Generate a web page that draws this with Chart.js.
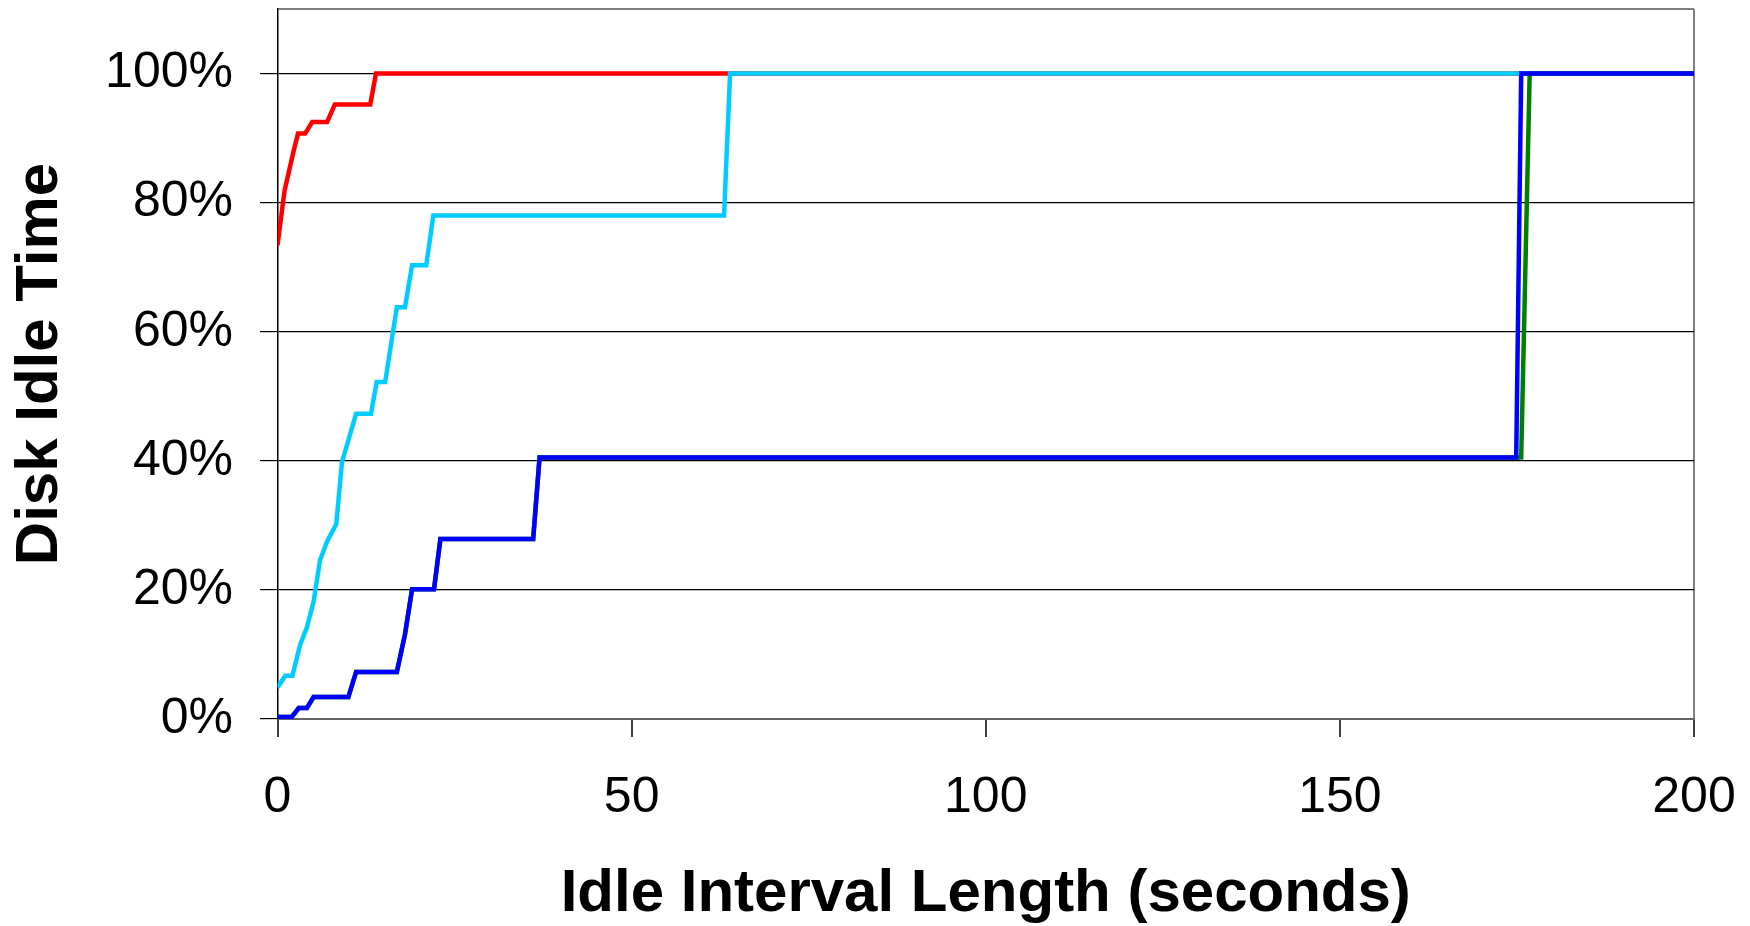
<!DOCTYPE html>
<html>
<head>
<meta charset="utf-8">
<title>Disk Idle Time</title>
<script src="https://cdn.jsdelivr.net/npm/chart.js"></script>
<style>
  html, body { margin: 0; padding: 0; background: #fff; }
  #chart { display: block; }
</style>
</head>
<body>
<canvas id="chart" width="1750" height="926"></canvas>
<script>
// idle interval length (s) / cumulative disk idle time (%)
var redSec  = [0, 1.0, 2.3, 2.9, 3.9, 4.9, 7.0, 8.1, 13.1, 13.9, 200];
var redPct  = [73.4, 81.9, 88.1, 90.7, 90.7, 92.5, 92.5, 95.2, 95.2, 100, 100];

var cyanSec = [0, 1.1, 2.1, 3.2, 4.15, 5.1, 6.0, 7.0, 8.3, 9.1, 11.1, 13.2, 14.0, 15.2, 16.85, 18.0, 19.0, 21.0, 22.0, 63.05, 63.9, 200];
var cyanPct = [4.9, 6.7, 6.7, 11.5, 14.2, 18.2, 24.6, 27.5, 30.2, 39.8, 47.3, 47.3, 52.2, 52.2, 63.8, 63.8, 70.3, 70.3, 78, 78, 100, 100];

var greenSec = [0, 2.0, 3.0, 4.15, 5.1, 10.0, 11.1, 16.85, 18.0, 19.0, 22.1, 23.0, 36.1, 37.0, 175.6, 176.8, 200];
var greenPct = [0.3, 0.3, 1.7, 1.7, 3.4, 3.4, 7.3, 7.3, 13.1, 20.1, 20.1, 27.9, 27.9, 40.5, 40.5, 100, 100];

var blueSec = [0, 2.0, 3.0, 4.15, 5.1, 10.0, 11.1, 16.85, 18.0, 19.0, 22.1, 23.0, 36.1, 37.0, 174.9, 175.6, 200];
var bluePct = [0.3, 0.3, 1.7, 1.7, 3.4, 3.4, 7.3, 7.3, 13.1, 20.1, 20.1, 27.9, 27.9, 40.5, 40.5, 100, 100];

var xTicks = [0, 50, 100, 150, 200];
var yTicks = [0, 20, 40, 60, 80, 100];

function pts(xs, ys) {
    return xs.map(function(x, i) { return { x: x, y: ys[i] }; });
}
function line(xs, ys, color, order) {
    return {
        data: pts(xs, ys),
        borderColor: color,
        borderWidth: 4.5,
        pointRadius: 0,
        tension: 0,
        fill: false,
        order: order
    };
}
function isYTick(v) { return yTicks.indexOf(v) >= 0; }

var font = "Arial, 'Liberation Sans', sans-serif";

new Chart(document.getElementById('chart'), {
    type: 'line',
    data: {
        datasets: [
            line(redSec, redPct, '#ff0000', 3),
            line(cyanSec, cyanPct, '#00ccff', 2),
            line(greenSec, greenPct, '#008000', 1),
            line(blueSec, bluePct, '#0000ff', 0)
        ]
    },
    options: {
        responsive: false,
        devicePixelRatio: 1,
        animation: false,
        layout: { padding: { top: 9, right: 56, left: 0, bottom: 0 } },
        plugins: { legend: { display: false }, tooltip: { enabled: false } },
        scales: {
            x: {
                type: 'linear',
                min: 0,
                max: 200,
                afterBuildTicks: function(s) {
                    s.ticks = xTicks.map(function(v) { return { value: v }; });
                },
                afterFit: function(s) { s.height = 207; s.paddingLeft = 0; s.paddingRight = 0; },
                ticks: {
                    autoSkip: false,
                    maxRotation: 0,
                    padding: 31,
                    color: '#000',
                    font: { family: font, size: 50 }
                },
                grid: {
                    drawOnChartArea: true,
                    color: function(c) { return c.tick && c.tick.value === 200 ? '#808080' : 'rgba(0,0,0,0)'; },
                    lineWidth: 2,
                    tickColor: '#000',
                    tickWidth: 1.5,
                    tickLength: 18
                },
                border: { color: '#666', width: 2 },
                title: {
                    display: true,
                    text: 'Idle Interval Length (seconds)',
                    color: '#000',
                    font: { family: font, size: 60, weight: 'bold', lineHeight: 1 },
                    padding: { top: 0, bottom: 2 }
                }
            },
            y: {
                min: 0,
                max: 110,
                afterFit: function(s) { s.width = 277.5; s.paddingTop = 0; s.paddingBottom = 0; },
                ticks: {
                    stepSize: 10,
                    autoSkip: false,
                    padding: 27,
                    color: '#000',
                    font: { family: font, size: 50 },
                    callback: function(v) { return isYTick(v) ? v + '%' : ''; }
                },
                grid: {
                    color: function(c) {
                        if (!c.tick) return 'rgba(0,0,0,0)';
                        if (c.tick.value === 110) return '#808080';
                        if (c.tick.value === 0) return '#666';
                        return isYTick(c.tick.value) ? '#000' : 'rgba(0,0,0,0)';
                    },
                    lineWidth: function(c) { return c.tick && c.tick.value === 110 ? 2 : 1.2; },
                    tickColor: function(c) { return c.tick && isYTick(c.tick.value) ? '#000' : 'rgba(0,0,0,0)'; },
                    tickLength: 17.5
                },
                border: { color: '#000', width: 1.5 },
                title: {
                    display: true,
                    text: 'Disk Idle Time',
                    color: '#000',
                    font: { family: font, size: 60, weight: 'bold', lineHeight: 1 },
                    padding: { top: 10, bottom: 0 }
                }
            }
        }
    }
});
</script>
</body>
</html>
